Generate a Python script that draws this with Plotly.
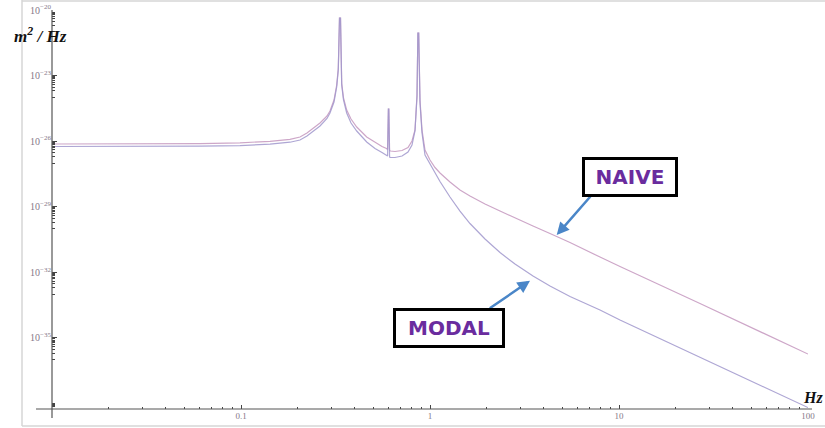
import plotly.graph_objects as go

# Frequency grid (Hz) shared by both spectra
freq = [0.0100, 0.01795, 0.0330, 0.06067, 0.0988, 0.1424, 0.1816, 0.2052, 0.2234, 0.2404,
        0.2618, 0.2851, 0.2957, 0.3105, 0.3209, 0.3272, 0.3320, 0.3361, 0.3410, 0.3486,
        0.3624, 0.3820, 0.4095, 0.4625, 0.5117, 0.5572, 0.5886, 0.5966, 0.6024, 0.6053,
        0.6112, 0.6180, 0.6528, 0.7111, 0.7649, 0.8030, 0.8330, 0.8535, 0.8629, 0.8713,
        0.8853, 0.9072, 0.9409, 1.0000, 1.0628, 1.1296, 1.2758, 1.4410, 1.6275, 1.9543,
        2.3462, 2.8166, 3.5075, 4.3139, 5.5051, 7.9334, 10.123, 26.827, 100.0]

# Displacement PSD (m^2/Hz), naive model
psd_naive = [7.415e-27, 7.415e-27, 7.49e-27, 7.73e-27, 8.41e-27, 9.85e-27, 1.216e-26, 1.550e-26, 2.36e-26, 4.00e-26,
             6.77e-26, 1.416e-25, 2.397e-25, 7.64e-25, 3.71e-24, 2.22e-23, 4.31e-21, 4.31e-21, 4.58e-24, 9.43e-25,
             2.66e-25, 1.032e-25, 4.44e-26, 1.550e-26, 8.68e-27, 5.70e-27, 4.62e-27, 4.155e-27, 2.96e-25, 2.96e-25,
             3.74e-27, 3.55e-27, 3.37e-27, 3.74e-27, 5.13e-27, 1.017e-26, 3.24e-26, 1.293e-24, 8.87e-22, 8.87e-22,
             7.64e-25, 3.24e-26, 3.94e-27, 1.374e-27, 6.24e-28, 3.50e-28, 1.354e-28, 5.83e-29, 3.10e-29, 1.335e-29,
             6.38e-30, 3.22e-30, 1.315e-30, 5.97e-31, 2.31e-31, 5.02e-32, 1.846e-32, 3.75e-34, 1.834e-36]

# Displacement PSD (m^2/Hz), modal model
psd_modal = [5.70e-27, 5.70e-27, 5.76e-27, 5.88e-27, 6.27e-27, 7.26e-27, 8.96e-27, 1.130e-26, 1.722e-26, 2.92e-26,
             4.94e-26, 1.088e-25, 1.942e-25, 6.18e-25, 3.00e-24, 1.80e-23, 4.31e-21, 4.31e-21, 3.71e-24, 7.64e-25,
             1.942e-25, 6.77e-26, 2.92e-26, 9.15e-27, 4.62e-27, 3.03e-27, 2.33e-27, 2.09e-27, 2.96e-25, 2.96e-25,
             1.886e-27, 1.788e-27, 1.788e-27, 2.09e-27, 3.19e-27, 6.67e-27, 2.92e-26, 1.047e-24, 8.87e-22, 8.87e-22,
             5.57e-25, 2.36e-26, 2.33e-27, 9.02e-28, 3.50e-28, 1.427e-28, 2.79e-29, 6.38e-30, 1.711e-30, 3.34e-31,
             8.07e-32, 2.40e-32, 6.79e-33, 2.37e-33, 7.83e-34, 1.889e-34, 6.59e-35, 1.338e-36, 6.55e-39]

# Axis ticks
y_major_exp = [-20, -23, -26, -29, -32, -35]
y_major_text = ["10<sup>\u2212%d</sup>" % (-e) for e in y_major_exp]
x_major = [0.1, 1, 10, 100]
x_major_text = ["0.1", "1", "10", "100"]

W, H = 825, 428
L, R, T, B = 52, 17, 10, 19
PW, PH = W - L - R, H - T - B


def px(x):
    return (x - L) / PW


def py(y):
    return 1 - (y - T) / PH


y_major = [10.0 ** e for e in y_major_exp]
y_minor = []
for e in y_major_exp + [-38]:
    for m in range(1, 10):
        y_minor.append(m * 10.0 ** (e - 1))
y_minor += [10.0 ** -38]
x_minor = []
for e in [-2, -1, 0, 1]:
    for m in range(2, 10):
        x_minor.append(m * 10.0 ** e)

fig = go.Figure()
fig.add_trace(go.Scatter(x=freq, y=psd_naive, mode="lines", name="NAIVE",
                         line=dict(color="rgba(196,150,190,0.85)", width=1.2)))
fig.add_trace(go.Scatter(x=freq, y=psd_modal, mode="lines", name="MODAL",
                         line=dict(color="rgba(160,150,205,0.85)", width=1.2)))

x_tick_font = dict(family="Liberation Serif", size=9, color="#857888")
y_tick_font = dict(family="Liberation Serif", size=10, color="#857888")

fig.update_xaxes(type="log", range=[-2, 2], showgrid=False, zeroline=False,
                 showline=False, automargin=False, ticks="inside", ticklen=4, tickwidth=1,
                 tickcolor="#444", tickmode="array", tickvals=x_major,
                 ticktext=x_major_text, tickfont=x_tick_font,
                 minor=dict(tickmode="array", tickvals=x_minor, ticks="inside",
                            ticklen=2, tickcolor="#444", showgrid=False))
fig.update_yaxes(type="log", range=[-38.25, -20], showgrid=False, zeroline=False,
                 showline=False, automargin=False, ticks="inside", ticklen=5, tickwidth=1,
                 tickcolor="#444", tickmode="array", tickvals=y_major,
                 ticktext=y_major_text, tickfont=y_tick_font,
                 minor=dict(tickmode="array", tickvals=y_minor, ticks="inside",
                            ticklen=3, tickcolor="#444", showgrid=False))

shapes = [
    # axis lines, crossing slightly past the origin
    dict(type="line", xref="paper", yref="paper", x0=px(52), x1=px(52), y0=py(10), y1=py(418),
         line=dict(color="#555", width=1.2)),
    dict(type="line", xref="paper", yref="paper", x0=px(36), x1=px(812), y0=py(409), y1=py(409),
         line=dict(color="#555", width=1.2)),
    # outer frame
    dict(type="line", xref="paper", yref="paper", x0=px(22), x1=px(22), y0=py(0), y1=py(426),
         line=dict(color="#d6d6d6", width=1.5)),
    dict(type="line", xref="paper", yref="paper", x0=px(22), x1=px(825), y0=py(1), y1=py(1),
         line=dict(color="#d6d6d6", width=1.5)),
    dict(type="line", xref="paper", yref="paper", x0=px(22), x1=px(825), y0=py(426), y1=py(426),
         line=dict(color="#d6d6d6", width=1.5)),
]

arrow_color = "#4a86c8"
label_font = dict(family="DejaVu Sans", size=20, color="#6a2c9e")
annotations = [
    dict(xref="paper", yref="paper", x=px(40), y=py(35), xanchor="center", yanchor="middle",
         text="<b><i>m<sup>2</sup> / Hz</i></b>", showarrow=False,
         font=dict(family="Liberation Serif", size=17, color="#111")),
    dict(xref="paper", yref="paper", x=px(825), y=py(397), xanchor="right", yanchor="middle",
         text="<b><i>Hz</i></b>", showarrow=False,
         font=dict(family="Liberation Serif", size=16, color="#111")),
    # arrows
    dict(xref="paper", yref="paper", x=px(556.7), y=py(235), ax=35, ay=-40, text="",
         showarrow=True, arrowhead=2, arrowsize=1, arrowwidth=2.5, arrowcolor=arrow_color),
    dict(xref="paper", yref="paper", x=px(530), y=py(280.7), ax=-41.7, ay=28.6, text="",
         showarrow=True, arrowhead=2, arrowsize=1, arrowwidth=2.5, arrowcolor=arrow_color),
    # labelled boxes
    dict(xref="paper", yref="paper", x=px(629.7), y=py(176.5), xanchor="center", yanchor="middle",
         text="<b>NAIVE</b>", showarrow=False, font=label_font, bgcolor="white",
         bordercolor="black", borderwidth=3, borderpad=1, width=88, height=32),
    dict(xref="paper", yref="paper", x=px(448.9), y=py(327.5), xanchor="center", yanchor="middle",
         text="<b>MODAL</b>", showarrow=False, font=label_font, bgcolor="white",
         bordercolor="black", borderwidth=3, borderpad=1, width=104, height=32),
]

fig.update_layout(width=W, height=H, margin=dict(l=L, r=R, t=T, b=B),
                  plot_bgcolor="white", paper_bgcolor="white", showlegend=False,
                  shapes=shapes, annotations=annotations)

fig.write_html("out.html")
